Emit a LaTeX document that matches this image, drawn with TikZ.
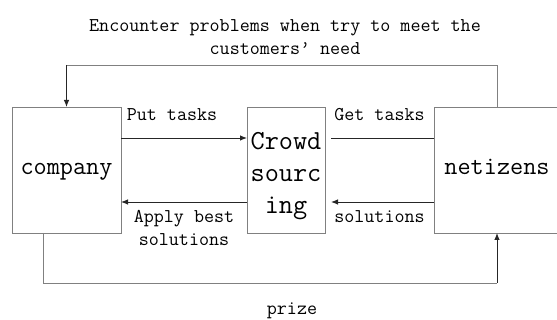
\documentclass[tikz,border=0pt]{standalone}
\usepackage{fontspec}
\renewcommand{\familydefault}{\ttdefault}
\usetikzlibrary{arrows,arrows.meta,calc,positioning}
\newdimen\hdim
\newdimen\odim
\hdim=126pt
\odim=32pt
\tikzstyle{element}=[
  draw=black!50,
  font={\fontsize{25.5}{32}\selectfont},
  inner sep=0pt,
  minimum height=\hdim,
  outer sep=0pt,
  rectangle,
  text centered,
  line width=0.8pt,
]
\tikzstyle{oneline}=[
  text height=0.85em,
  text depth=0em,
]
\tikzstyle{arrow}=[
  draw=black!85,
  line width=0.9pt,
]
\tikzstyle{loop}=[
  draw=black!50,
  line width=0.9pt,
]
\tikzstyle{arrowlabel}=[
  font={\fontsize{19.5}{23}\selectfont},
  inner sep=0pt,
]
\tikzset{
  x=1pt, y=1pt,
  >={Latex[length=7pt,width=5.5pt]},
}
\begin{document}
\begin{tikzpicture}
      \useasboundingbox (0,0) rectangle (557,320);
      \node (company) [element, oneline, minimum width=109pt] at (66.5,150) {company};
      \node (crowd) [element, minimum width=78pt, right=126pt of company,
        align=center, text height=93pt, text depth=6pt,
        font={\fontsize{27.5}{32}\selectfont}] {Crowd\\sourc\\ing};
      \node (netizens) [element, oneline, minimum width=126pt, right=109pt of crowd] {netizens};
      %%
      \node (title) [arrowlabel, align=center] at (285,283)
        {Encounter problems when try to meet the\\customers’ need};
      \node (prize) [arrowlabel] at (292,9) {prize};
      %%
      \draw [->, arrow] ($(company.east)+(0,\odim)$)
        -- node [arrowlabel, above=17pt, xshift=-12pt] {Put tasks}
        ($(crowd.west)+(0,\odim)$);
      \draw [->, arrow] ($(crowd.west)+(0,-\odim)$)
        -- node [arrowlabel, below=8pt, align=center] {Apply best\\solutions}
        ($(company.east)+(0,-\odim)$);
      \draw [arrow] ($(netizens.west)+(0,\odim)$)
        -- node [arrowlabel, above=17pt, xshift=-3pt] {Get tasks}
        ($(crowd.east)+(6,\odim)$);
      \draw [->, arrow] ($(netizens.west)+(0,-\odim)$)
        -- node [arrowlabel, below=8pt, xshift=-3pt] {solutions}
        ($(crowd.east)+(6,-\odim)$);
      %%
      \coordinate [above=42pt of netizens.north] (A);
      \coordinate (B) at (A -| company.north);
      \draw [loop] (netizens.north) -- (A) -- (B);
      \draw [->, arrow] (B) -- (company.north);
      \coordinate (C) at ($(company.south)+(-23.5,0)$);
      \coordinate [below=50pt of C] (D);
      \coordinate (E) at (D -| netizens.south);
      \draw [loop] (C) -- (D) -- (E);
      \draw [->, arrow] (E) -- (netizens.south);
    \end{tikzpicture}
\end{document}
